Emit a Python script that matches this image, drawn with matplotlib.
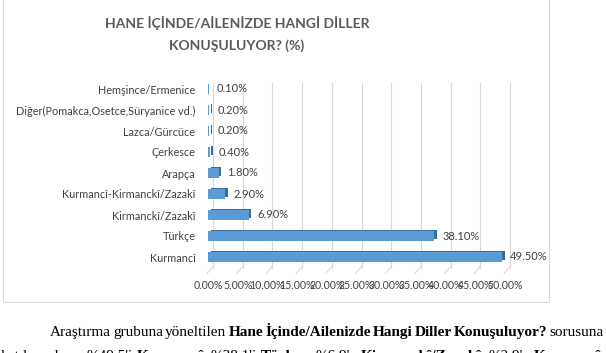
import matplotlib
matplotlib.use("Agg")
import matplotlib.pyplot as plt
from matplotlib.patches import Rectangle
from matplotlib.lines import Line2D
from matplotlib.transforms import offset_copy

# Data
LANGS = ["Kurmancî", "Türkçe", "Kirmanckî/Zazakî", "Kurmancî-Kirmanckî/Zazakî",
         "Arapça", "Çerkesce", "Lazca/Gürcüce",
         "Diğer(Pomakca,Osetce,Süryanice vd.)", "Hemşince/Ermenice"]
PCT = [49.5, 38.1, 6.9, 2.9, 1.8, 0.4, 0.2, 0.2, 0.1]
XTICKS = [0, 5, 10, 15, 20, 25, 30, 35, 40, 45, 50]
XTICK_LABELS = [f"{v:.2f}%" for v in XTICKS]
TITLE = "HANE İÇİNDE/AİLENİZDE HANGİ DİLLER\nKONUŞULUYOR? (%)"

LINE1 = [("Araştırma", False), ("grubuna", False), ("yöneltilen", False),
         ("Hane", True), ("İçinde/Ailenizde", True), ("Hangi", True),
         ("Diller", True), ("Konuşuluyor?", True), ("sorusuna", False)]
LINE2 = [("katılımcıların", False), ("%49.5'i", False), ("Kurmancî,", True),
         ("%38.1'i", False), ("Türkçe,", True), ("%6.9'u", False),
         ("Kirmanckî/Zazakî,", True), ("%2.9'u", False), ("Kurmancî-", True)]

W, H = 606, 353
BLUE = "#5B9BD5"
DARK = "#3A6E9E"
GRID = "#D9D9D9"
TXT = "#404040"
SANS = ["Lato", "DejaVu Sans"]
SERIF = ["Liberation Serif", "DejaVu Serif"]


def fx(x):
    return x / W


def fy(y):
    return 1 - y / H


fig = plt.figure(figsize=(W / 100, H / 100), dpi=100)
fig.patch.set_facecolor("white")

# chart frame
fig.patches.append(Rectangle((fx(3), fy(302)), fx(549) - fx(3), fy(-2) - fy(302),
                             transform=fig.transFigure, fill=False,
                             edgecolor=GRID, lw=0.8))

# axes: 0% at px 208, 50% at px 505; rows between px 78.5 and 267.5
ax = fig.add_axes([fx(208), fy(267.5), fx(505) - fx(208), fy(78.5) - fy(267.5)])
ax.set_xlim(0, 50)
ax.set_ylim(-0.5, len(LANGS) - 0.5)
for s in ax.spines.values():
    s.set_visible(False)
ax.patch.set_alpha(0)

# back-wall gridlines (3D look, shifted right)
back = offset_copy(ax.get_xaxis_transform(), fig=fig, x=5, y=0, units="dots")
for v in XTICKS:
    ax.plot([v, v], [0.0, 0.976], color=GRID, lw=0.8, transform=back,
            clip_on=False, zorder=0)
# slanted floor ticks
fig.canvas.draw()
for v in XTICKS:
    px0, py0 = ax.transData.transform((v, -0.5))
    fig.lines.append(Line2D([px0 - 1, px0 + 5], [py0 - 6, py0 + 1],
                            transform=None, color=GRID, lw=0.8))

ypos = list(range(len(LANGS)))
bar_h = 0.43
side = offset_copy(ax.transData, fig=fig, x=2.5, y=1.5, units="dots")
ax.barh(ypos, PCT, height=bar_h, color=DARK, transform=side, zorder=2, clip_on=False)
ax.barh(ypos, PCT, height=bar_h, color=BLUE, zorder=3, clip_on=False)

for y, v in zip(ypos, PCT):
    ax.annotate(f"{v:.2f}%", (v, y), xytext=(8, 0), textcoords="offset pixels",
                va="center", ha="left", fontsize=8, color=TXT, family=SANS)

ax.set_yticks(ypos)
ax.set_yticklabels(LANGS, fontsize=7.8, color=TXT, family=SANS)
ax.set_xticks(XTICKS)
ax.set_xticklabels(XTICK_LABELS, fontsize=7.6, color=TXT, family=SANS)
ax.tick_params(axis="y", length=0, pad=9)
ax.tick_params(axis="x", length=0, pad=9)

fig.text(fx(237), fy(34), TITLE, ha="center", va="center", fontsize=10,
         fontweight="bold", color="#595959", family=SANS, linespacing=1.8)

# paragraph below the chart (justified)
renderer = fig.canvas.get_renderer()


def justified(words, x0, x1, base_y, size):
    arts, widths = [], []
    for w, b in words:
        t = fig.text(0, fy(base_y), w, fontsize=size, va="baseline", ha="left",
                     fontweight="bold" if b else "normal", family=SERIF, color="black")
        widths.append(t.get_window_extent(renderer).width)
        arts.append(t)
    gap = (x1 - x0 - sum(widths)) / (len(words) - 1)
    x = x0
    for t, wd in zip(arts, widths):
        t.set_x(fx(x))
        x += wd + gap


justified(LINE1, 50, 604, 336, 11)
justified(LINE2, 1, 606, 360, 11)

fig.savefig("out.png", dpi=100)
